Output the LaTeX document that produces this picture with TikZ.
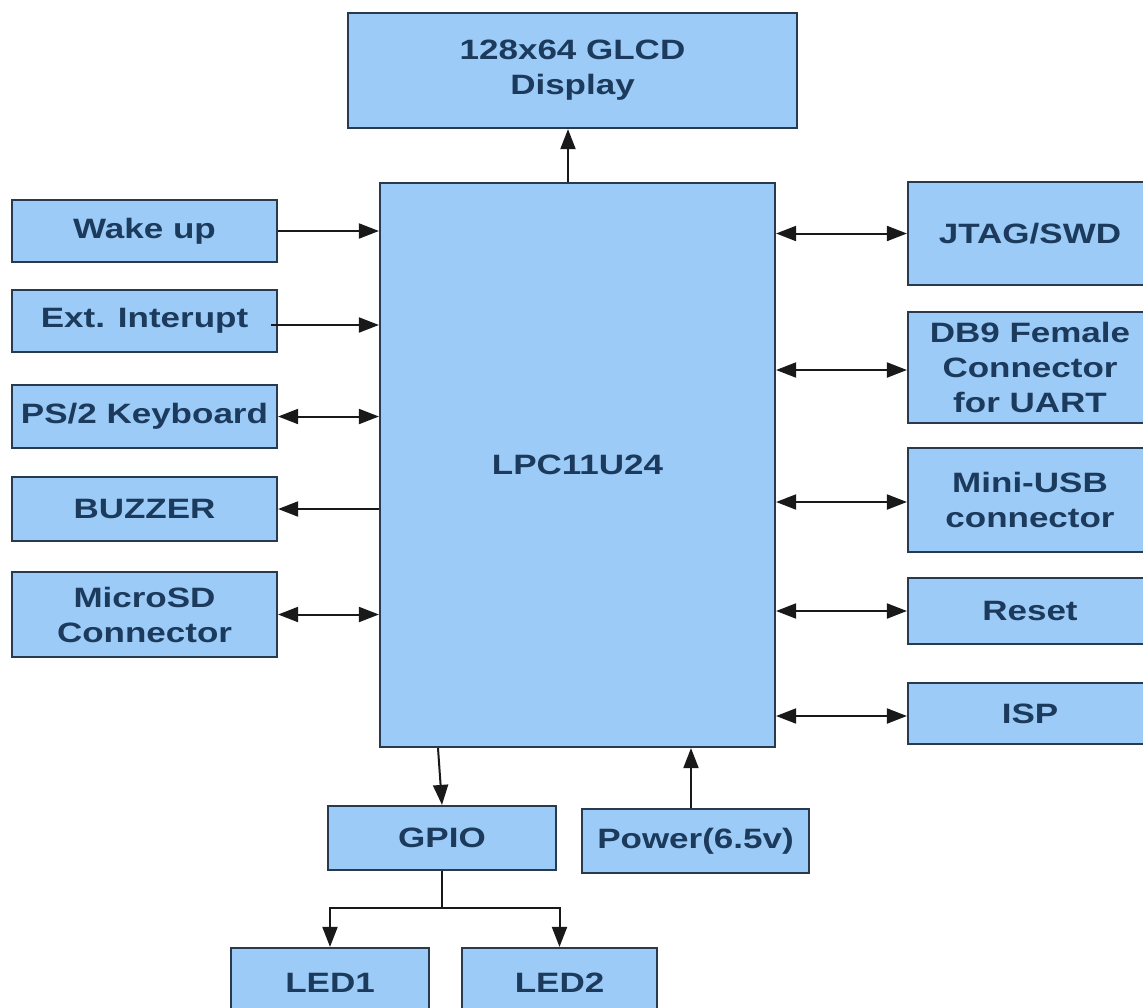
\documentclass[tikz,border=0pt]{standalone}
\usepackage{fontspec}
\setmainfont[FakeStretch=1.25]{Liberation Sans}
\usetikzlibrary{arrows.meta,calc}
\definecolor{boxfill}{RGB}{156,203,247}
\definecolor{boxline}{RGB}{40,58,78}
\definecolor{txt}{RGB}{28,58,92}
\definecolor{wire}{RGB}{25,25,25}
\tikzset{
  blk/.style={draw=boxline, line width=2.2pt, fill=boxfill, text=txt,
    font=\fontsize{28}{35}\selectfont\bfseries, align=center, inner sep=0pt},
  arr/.style={draw=wire, line width=2pt, -{Triangle[length=20pt,width=15pt]}},
  barr/.style={draw=wire, line width=2pt, {Triangle[length=20pt,width=15pt]}-{Triangle[length=20pt,width=15pt]}},
  plain/.style={draw=wire, line width=2pt}
}
\begin{document}
\begin{tikzpicture}[x=1pt,y=-1pt]
\useasboundingbox (0,0) rectangle (1143,1007);
\fill[white] (0,0) rectangle (1143,1007);
\clip (0,0) rectangle (1143,1007);
% nodes
\node[blk, minimum width=449, minimum height=115] (glcd) at (572.5,70.5) {128x64 GLCD\\Display};
\node[blk, minimum width=395, minimum height=564] (mcu) at (577.5,465) {LPC11U24};
\node[blk, minimum width=265, minimum height=62] (wake) at (144.5,231) {Wake up};
\node[blk, minimum width=265, minimum height=62] (ext) at (144.5,321) {Ext. Interupt};
\node[blk, minimum width=265, minimum height=63] (ps2) at (144.5,416.5) {PS/2 Keyboard};
\node[blk, minimum width=265, minimum height=64] (buzz) at (144.5,509) {BUZZER};
\node[blk, minimum width=265, minimum height=85] (sd) at (144.5,614.5) {MicroSD\\Connector};
\node[blk, minimum width=244, minimum height=103] (jtag) at (1030,233.5) {JTAG/SWD};
\node[blk, minimum width=244, minimum height=111] (db9) at (1030,367.5) {DB9 Female\\Connector\\for UART};
\node[blk, minimum width=244, minimum height=104] (usb) at (1030,500) {Mini-USB\\connector};
\node[blk, minimum width=244, minimum height=66] (reset) at (1030,611) {Reset};
\node[blk, minimum width=244, minimum height=61] (isp) at (1030,713.5) {ISP};
\node[blk, minimum width=228, minimum height=64] (gpio) at (442,838) {GPIO};
\node[blk, minimum width=227, minimum height=64] (power) at (695.5,841) {Power(6.5v)};
\node[blk, minimum width=198, minimum height=70] (led1) at (330,983) {LED1};
\node[blk, minimum width=195, minimum height=70] (led2) at (559.5,983) {LED2};
% connectors
\draw[arr] ($(mcu.north)+(-9.5,0)$) -- ($(glcd.south)+(-4.5,0)$);
\draw[arr] (wake.east) -- (wake.east -| mcu.west);
\draw[arr] ($(ext.east)+(-7,4)$) coordinate (exs) -- (exs -| mcu.west);
\draw[barr] (ps2.east) -- (ps2.east -| mcu.west);
\draw[arr] (buzz.east -| mcu.west) -- (buzz.east);
\draw[barr] (sd.east) -- (sd.east -| mcu.west);
\draw[barr] (jtag.west -| mcu.east) -- (jtag.west);
\draw[barr] ($(db9.west)+(0,2.5)$) coordinate (d9) -- (d9 -| mcu.east);
\draw[barr] ($(usb.west)+(0,2)$) coordinate (us) -- (us -| mcu.east);
\draw[barr] (reset.west -| mcu.east) -- (reset.west);
\draw[barr] ($(isp.west)+(0,2.5)$) coordinate (is) -- (is -| mcu.east);
\draw[arr] ($(gpio.north |- mcu.south)+(-4,0)$) -- (gpio.north);
\draw[arr] ($(power.north)+(-4.5,0)$) coordinate (pw) -- (pw |- mcu.south);
\draw[plain] (gpio.south) -- ++(0,37) coordinate (j);
\draw[arr] (j) -| (led1.north);
\draw[arr] (j) -| (led2.north);
\end{tikzpicture}
\end{document}
